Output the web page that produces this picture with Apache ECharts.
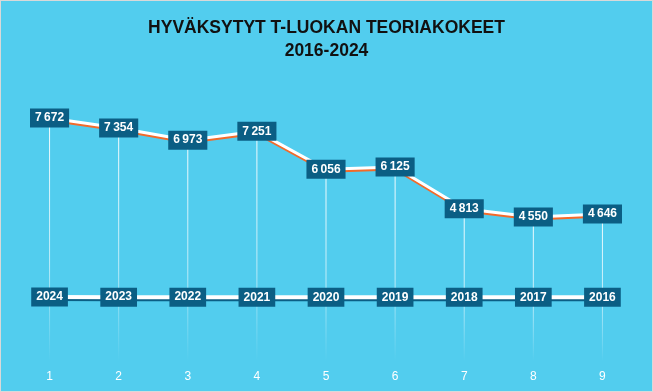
<!DOCTYPE html>
<html>
<head>
<meta charset="utf-8">
<script src="https://cdn.jsdelivr.net/npm/echarts@6/dist/echarts.min.js"></script>
<style>
html,body{margin:0;padding:0;background:#d9d9d9;}
#c{position:absolute;left:1px;top:1px;width:651px;height:390px;}
</style>
</head>
<body>
<div id="c"></div>
<script>
const categories = ['1','2','3','4','5','6','7','8','9'];
const approvedTests = [7672, 7354, 6973, 7251, 6056, 6125, 4813, 4550, 4646];
const years = [2024, 2023, 2022, 2021, 2020, 2019, 2018, 2017, 2016];
const titleLines = ['HYVÄKSYTYT T-LUOKAN TEORIAKOKEET', '2016-2024'];

const fmt = v => {
  const s = String(v);
  return s.length > 3 ? s.slice(0, s.length - 3) + '\u2009' + s.slice(-3) : s;
};

const labelBox = {
  show: true,
  position: 'inside',
  color: '#ffffff',
  fontFamily: 'Liberation Sans, Arial, sans-serif',
  fontWeight: 'bold',
  fontSize: 12,
  backgroundColor: '#0b5e84',
  padding: [4, 5, 3, 5]
};

const chart = echarts.init(document.getElementById('c'));
chart.setOption({
  backgroundColor: '#52cdee',
  animation: false,
  title: {
    text: titleLines.join('\n'),
    left: 'center',
    top: 11,
    textStyle: {
      color: '#111111',
      fontFamily: 'Liberation Sans, Arial, sans-serif',
      fontWeight: 'bold',
      fontSize: 17.5,
      lineHeight: 23
    }
  },
  grid: { left: 14, right: 15, top: 106.6, bottom: 29.7, containLabel: false },
  xAxis: {
    type: 'category',
    data: categories,
    boundaryGap: true,
    axisLine: { show: false },
    axisTick: { show: false },
    axisLabel: { color: '#ffffff', fontSize: 12, margin: 9, fontFamily: 'Liberation Sans, Arial, sans-serif' }
  },
  yAxis: {
    type: 'value',
    min: 0,
    max: 8000,
    show: false,
    splitLine: { show: false }
  },
  series: [
    {
      type: 'bar',
      data: approvedTests,
      barWidth: 1,
      silent: true,
      z: 1,
      itemStyle: {
        color: {
          type: 'linear', x: 0, y: 0, x2: 0, y2: 1,
          colorStops: [
            { offset: 0, color: 'rgba(255,255,255,0.95)' },
            { offset: 0.6, color: 'rgba(255,255,255,0.6)' },
            { offset: 1, color: 'rgba(255,255,255,0)' }
          ]
        }
      }
    },
    {
      type: 'line',
      data: approvedTests,
      symbol: 'circle',
      symbolSize: 1,
      showAllSymbol: true,
      itemStyle: { color: 'rgba(0,0,0,0)' },
      z: 3,
      lineStyle: {
        color: '#ffffff', width: 3,
        shadowColor: '#f36a2a', shadowOffsetY: 2, shadowBlur: 0
      },
      label: Object.assign({}, labelBox, { formatter: p => fmt(p.value) })
    },
    {
      type: 'line',
      data: years,
      symbol: 'circle',
      symbolSize: 1,
      showAllSymbol: true,
      itemStyle: { color: 'rgba(0,0,0,0)' },
      z: 3,
      lineStyle: {
        color: '#ffffff', width: 4,
        shadowColor: '#0b5e84', shadowOffsetY: 2, shadowBlur: 0
      },
      label: Object.assign({}, labelBox, { formatter: p => String(p.value) })
    }
  ]
});
</script>
</body>
</html>
